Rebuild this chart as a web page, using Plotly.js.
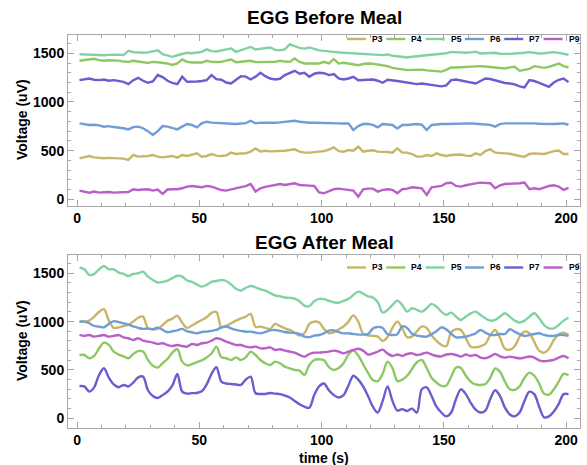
<!DOCTYPE html>
<html><head><meta charset="utf-8">
<script src="https://cdn.plot.ly/plotly-3.0.1.min.js"></script>
<style>html,body{margin:0;padding:0;background:#fff}#chart{width:587px;height:465px}</style>
</head><body><div id="chart"></div>
<script>
const seriesNames = ['P3','P4','P5','P6','P7','P9'];
const seriesColors = ['#c9b567','#8dc862','#80d2a2','#6f9dd6','#6b5cd0','#b95fc8'];
const timeStart = 1, timeStep = 2;

const beforeP3 = [421,431,445,431,425,421,425,421,421,418,404,455,438,440,445,455,438,431,440,445,428,455,445,460,472,438,445,465,448,445,451,479,465,470,472,490,523,492,499,492,492,495,499,506,513,489,479,479,485,489,
495,510,534,495,489,506,499,540,489,499,503,489,489,485,479,523,479,479,465,438,438,455,445,472,455,445,455,455,460,448,445,472,455,495,513,479,472,472,468,455,445,438,465,472,472,465,479,495,500,465,465];
const beforeP4 = [1423,1430,1436,1443,1430,1423,1428,1430,1425,1415,1412,1423,1412,1408,1402,1412,1408,1402,1395,1380,1395,1436,1412,1405,1402,1405,1423,1412,1410,1412,1425,1436,1409,1415,1420,1423,1409,1412,1415,1412,1412,1423,1415,1412,1447,1412,1395,1398,1395,1395,
1412,1395,1440,1395,1402,1395,1389,1378,1390,1395,1392,1385,1378,1368,1350,1344,1335,1327,1330,1334,1332,1325,1320,1318,1312,1330,1354,1354,1358,1361,1361,1364,1368,1364,1358,1354,1350,1344,1355,1361,1320,1328,1340,1368,1358,1350,1361,1380,1395,1368,1354];
const beforeP5 = [1490,1488,1484,1488,1484,1480,1484,1488,1486,1482,1525,1512,1508,1505,1510,1520,1530,1491,1475,1464,1480,1492,1505,1500,1510,1515,1540,1522,1518,1530,1535,1550,1515,1530,1550,1565,1540,1545,1555,1560,1535,1530,1540,1594,1573,1555,1548,1560,1545,1530,
1525,1518,1515,1510,1505,1502,1498,1498,1494,1490,1490,1485,1481,1488,1475,1470,1462,1457,1465,1470,1470,1476,1481,1484,1490,1500,1515,1512,1508,1505,1510,1516,1498,1502,1505,1505,1495,1491,1494,1498,1500,1505,1512,1505,1498,1500,1505,1512,1505,1495,1485];
const beforeP6 = [780,775,763,766,760,746,752,742,739,730,718,742,746,730,700,660,700,752,746,730,718,746,773,763,739,780,797,787,783,780,780,773,773,778,783,807,780,787,785,787,787,790,797,800,807,797,790,787,787,787,
787,787,783,780,778,780,711,752,773,773,765,739,773,770,763,728,763,763,770,773,766,711,763,770,773,773,775,773,776,780,780,776,773,775,765,746,773,780,780,780,780,783,787,780,776,773,773,773,776,780,766];
const beforeP7 = [1224,1231,1241,1228,1224,1231,1218,1224,1215,1207,1183,1224,1248,1218,1197,1210,1276,1255,1218,1195,1183,1259,1207,1207,1210,1215,1224,1276,1235,1228,1200,1190,1225,1265,1260,1231,1260,1300,1265,1241,1231,1238,1276,1295,1320,1290,1300,1259,1290,1300,
1295,1276,1286,1241,1231,1241,1259,1224,1224,1228,1231,1218,1197,1228,1225,1215,1207,1197,1190,1183,1190,1183,1180,1170,1160,1170,1224,1231,1220,1210,1200,1190,1215,1241,1236,1220,1207,1195,1190,1180,1160,1149,1224,1215,1195,1175,1156,1200,1228,1241,1204];
const beforeP9 = [89,75,68,79,68,72,75,68,70,68,75,103,96,100,103,89,100,55,100,103,103,113,130,137,130,123,137,130,113,95,89,103,113,125,135,157,79,113,128,137,144,157,147,155,164,147,147,140,137,70,
62,79,103,109,103,96,89,27,103,109,109,79,96,103,96,62,103,109,123,118,113,44,123,130,137,165,171,137,130,144,157,164,171,171,165,113,144,157,157,160,164,171,103,113,103,120,137,144,130,96,116];

const afterP3 = [1000,1000,1010,1050,1100,1128,1010,935,941,955,965,1000,1040,1052,931,921,925,965,1010,1030,1060,990,935,960,990,1017,1045,1090,1100,940,955,983,1010,1034,1052,1079,945,948,935,925,976,955,931,914,885,855,880,976,1000,990,
925,880,890,920,950,1000,1065,1000,875,858,852,845,800,840,935,1000,930,840,845,900,950,935,860,800,760,745,890,921,914,830,740,735,745,770,860,914,830,720,710,745,845,896,880,790,700,679,720,810,870,886,862];
const afterP4 = [655,655,621,645,724,783,760,690,660,640,621,665,695,690,605,545,525,570,615,680,717,586,548,560,580,600,630,670,741,633,621,603,630,603,630,690,655,603,569,552,586,569,534,517,500,493,448,552,603,610,
600,530,500,520,570,660,700,650,560,470,395,385,460,586,520,385,400,440,510,580,603,520,420,370,335,340,430,525,520,440,380,350,345,355,420,515,480,380,300,295,330,420,472,440,360,255,245,300,380,460,445];
const afterP5 = [1562,1541,1483,1493,1541,1576,1541,1541,1507,1493,1472,1493,1500,1517,1465,1431,1405,1410,1424,1450,1475,1465,1425,1410,1385,1362,1380,1410,1420,1431,1420,1385,1340,1320,1350,1369,1355,1334,1320,1295,1270,1262,1250,1245,1238,1210,1165,1160,1210,1235,
1232,1215,1200,1195,1215,1235,1275,1310,1290,1262,1250,1200,1093,1121,1172,1217,1172,1103,1138,1121,1103,1138,1183,1155,1103,1069,1093,1052,1017,1052,1086,1103,1069,1034,1010,1017,1052,1086,1052,1010,990,1010,1052,1086,1034,965,931,931,965,1010,1040];
const afterP6 = [1000,1000,983,955,948,941,976,1005,995,983,970,950,935,925,928,921,938,915,890,900,910,925,900,890,879,893,896,905,914,941,950,930,914,905,896,896,886,879,893,910,914,905,893,886,883,872,845,840,855,862,
879,907,910,893,879,879,872,866,866,870,930,945,935,870,862,870,950,935,875,855,848,845,870,900,941,920,875,838,838,845,860,879,914,886,862,862,872,872,921,896,872,852,862,872,879,862,852,852,862,862,852];
const afterP7 = [334,330,276,320,448,517,420,350,321,345,330,370,424,431,290,230,210,240,275,340,459,276,255,260,262,280,350,460,528,380,360,355,350,345,400,431,259,252,252,262,255,250,235,215,180,145,120,110,240,330,
360,290,240,215,240,340,440,400,330,230,120,60,180,330,180,80,95,75,100,60,300,320,230,120,60,20,60,200,300,250,160,90,60,80,200,290,230,110,40,20,60,180,275,250,120,10,20,70,150,250,250];
const afterP9 = [862,852,862,845,852,862,845,852,862,838,828,810,828,803,793,783,769,776,758,748,758,748,741,769,758,776,783,803,828,817,793,776,758,758,741,734,741,724,724,734,707,714,700,690,679,655,638,665,679,679,
684,690,700,690,672,690,707,720,700,660,672,690,710,670,645,660,645,665,672,655,665,679,660,645,640,660,665,655,638,660,645,655,628,621,640,665,640,628,638,628,621,628,640,628,600,590,596,605,628,645,621];

const beforeSeries = [beforeP3, beforeP4, beforeP5, beforeP6, beforeP7, beforeP9];
const afterSeries = [afterP3, afterP4, afterP5, afterP6, afterP7, afterP9];

const W = 587, H = 465;
const px = v => v / W;
const py = v => (H - v) / H;
const FONT = 'Liberation Sans, Arial, sans-serif';

function timeAxis(n) { const t = []; for (let i = 0; i < n; i++) t.push(timeStart + i * timeStep); return t; }

const traces = [];
beforeSeries.forEach((s, i) => traces.push({
  x: timeAxis(s.length), y: s, type: 'scatter', mode: 'lines', name: seriesNames[i],
  line: {color: seriesColors[i], width: 2.4}, xaxis: 'x', yaxis: 'y', showlegend: false, hoverinfo: 'skip'
}));
afterSeries.forEach((s, i) => traces.push({
  x: timeAxis(s.length), y: s, type: 'scatter', mode: 'lines', name: seriesNames[i],
  line: {color: seriesColors[i], width: 2.4, shape: 'spline', smoothing: 0.9}, xaxis: 'x2', yaxis: 'y2', showlegend: false, hoverinfo: 'skip'
}));

const frameColor = '#a8a8a8';
function xAx(anchor) {
  return {domain: [px(68), px(580)], range: [-3.7, 205.7], anchor: anchor,
    showline: true, linecolor: frameColor, linewidth: 1, mirror: 'ticks',
    ticks: 'inside', ticklen: 6, tickcolor: frameColor, tickwidth: 1,
    tick0: 0, dtick: 50, minor: {dtick: 10, ticks: 'inside', ticklen: 3, tickcolor: frameColor},
    showgrid: false, zeroline: false, fixedrange: true,
    tickfont: {family: FONT, size: 14, color: '#000', weight: 'bold'}};
}
function yAx(anchor, dom, rng) {
  return {domain: dom, range: rng, anchor: anchor,
    showline: true, linecolor: frameColor, linewidth: 1, mirror: 'ticks',
    ticks: 'inside', ticklen: 6, tickcolor: frameColor, tickwidth: 1,
    tick0: 0, dtick: 500, minor: {dtick: 100, ticks: 'inside', ticklen: 3, tickcolor: frameColor},
    showgrid: false, zeroline: false, fixedrange: true,
    tickfont: {family: FONT, size: 14, color: '#000', weight: 'bold'}};
}

const annotations = [
  {text: 'EGG Before Meal', x: px(324), y: py(18), xref: 'paper', yref: 'paper', showarrow: false, xanchor: 'center', yanchor: 'middle', font: {family: FONT, size: 19, weight: 'bold', color: '#000'}},
  {text: 'EGG After Meal', x: px(324), y: py(242), xref: 'paper', yref: 'paper', showarrow: false, xanchor: 'center', yanchor: 'middle', font: {family: FONT, size: 19, weight: 'bold', color: '#000'}},
  {text: 'Voltage (uV)', x: px(22), y: py(120), xref: 'paper', yref: 'paper', showarrow: false, textangle: -90, xanchor: 'center', yanchor: 'middle', font: {family: FONT, size: 14, weight: 'bold', color: '#000'}},
  {text: 'Voltage (uV)', x: px(22), y: py(341), xref: 'paper', yref: 'paper', showarrow: false, textangle: -90, xanchor: 'center', yanchor: 'middle', font: {family: FONT, size: 14, weight: 'bold', color: '#000'}},
  {text: 'time (s)', x: px(324), y: py(458), xref: 'paper', yref: 'paper', showarrow: false, xanchor: 'center', yanchor: 'middle', font: {family: FONT, size: 14, weight: 'bold', color: '#000'}}
];
const shapes = [];
[39, 267.5].forEach(ly => {
  seriesNames.forEach((nm, i) => {
    const x0 = 347 + 39.3 * i;
    shapes.push({type: 'line', xref: 'paper', yref: 'paper', x0: px(x0), x1: px(x0 + 19), y0: py(ly), y1: py(ly), line: {color: seriesColors[i], width: 2.4}});
    annotations.push({text: nm, x: px(x0 + 23), y: py(ly), xref: 'paper', yref: 'paper', showarrow: false, xanchor: 'left', yanchor: 'middle', font: {family: FONT, size: 8.5, weight: 'bold', color: '#000'}});
  });
});

const layout = {
  width: W, height: H, margin: {l: 0, r: 0, t: 0, b: 0},
  paper_bgcolor: '#fff', plot_bgcolor: '#fff', showlegend: false,
  xaxis: xAx('y'), yaxis: yAx('x', [py(205.5), py(35)], [-64, 1688]),
  xaxis2: xAx('y2'), yaxis2: yAx('x2', [py(427.5), py(255)], [-95, 1689]),
  annotations: annotations, shapes: shapes
};
Plotly.newPlot('chart', traces, layout, {displayModeBar: false, staticPlot: true});
</script></body></html>
